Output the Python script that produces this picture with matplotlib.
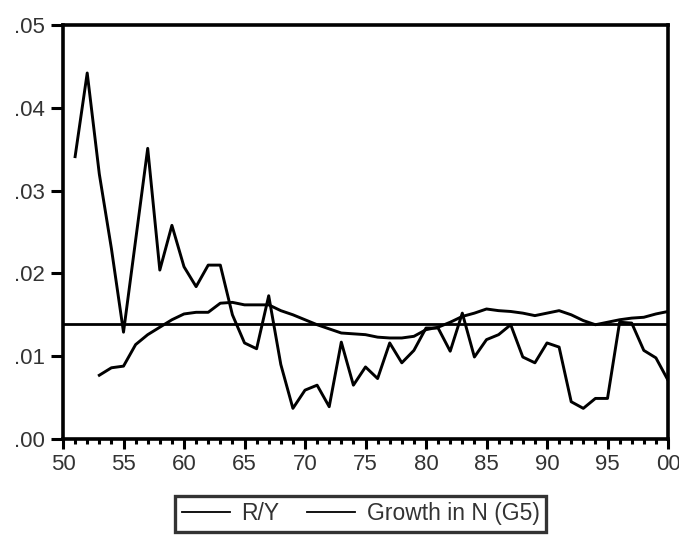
import numpy as np
import matplotlib
matplotlib.use("Agg")
import matplotlib.pyplot as plt
from matplotlib.ticker import MultipleLocator, FuncFormatter

plt.rcParams["font.family"] = ["Liberation Sans", "DejaVu Sans"]

# ================= DATA =================
years_ry = list(range(51, 101))
r_y = [
    0.0341, 0.0442, 0.0320, 0.0230, 0.0129, 0.0240, 0.0351, 0.0204, 0.0258, 0.0208,
    0.0184, 0.0210, 0.0210, 0.0150, 0.0116, 0.0109, 0.0173, 0.0090, 0.0037, 0.0059,
    0.0065, 0.0039, 0.0117, 0.0065, 0.0087, 0.0073, 0.0116, 0.0092, 0.0107, 0.0134,
    0.0134, 0.0106, 0.0152, 0.0099, 0.0120, 0.0126, 0.0138, 0.0099, 0.0092, 0.0116,
    0.0111, 0.0045, 0.0037, 0.0049, 0.0049, 0.0141, 0.0140, 0.0107, 0.0098, 0.0071,
]

years_g = list(range(53, 101))
growth_n = [
    0.0077, 0.0086, 0.0088, 0.0114, 0.0126, 0.0135, 0.0144, 0.0151, 0.0153, 0.0153,
    0.0164, 0.0165, 0.0162, 0.0162, 0.0162, 0.0155, 0.0150, 0.0144, 0.0138, 0.0133,
    0.0128, 0.0127, 0.0126, 0.0123, 0.0122, 0.0122, 0.0124, 0.0132, 0.0135, 0.0141,
    0.0148, 0.0152, 0.0157, 0.0155, 0.0154, 0.0152, 0.0149, 0.0152, 0.0155, 0.0150,
    0.0143, 0.0138, 0.0141, 0.0144, 0.0146, 0.0147, 0.0151, 0.0154,
]

mean_level = 0.0139

# ================= CHART =================
fig = plt.figure(figsize=(6.79, 5.37), dpi=100)
ax = fig.add_axes([0.0928, 0.1825, 0.891, 0.771])

ax.plot(years_ry, r_y, color="black", lw=2.1, label="R/Y")
ax.plot(years_g, growth_n, color="black", lw=2.1, label="Growth in N (G5)")
ax.axhline(mean_level, color="black", lw=2.0)

ax.set_xlim(50, 100)
ax.set_ylim(0, 0.05)

ax.xaxis.set_major_locator(MultipleLocator(5))
ax.xaxis.set_minor_locator(MultipleLocator(1))
ax.yaxis.set_major_locator(MultipleLocator(0.01))
ax.xaxis.set_major_formatter(FuncFormatter(lambda v, p: "%02d" % (int(round(v)) % 100)))
ax.yaxis.set_major_formatter(FuncFormatter(lambda v, p: ("%.2f" % v)[1:]))

ax.tick_params(axis="x", which="major", direction="out", length=7, width=2.2, pad=4, labelsize=16, labelcolor="#333333")
ax.tick_params(axis="x", which="minor", direction="out", length=3.5, width=2.2)
ax.tick_params(axis="y", which="major", direction="out", length=9, width=2.2, pad=4, labelsize=16, labelcolor="#333333")
ax.tick_params(top=False, right=False)

for s in ax.spines.values():
    s.set_linewidth(2.6)

leg = fig.legend(
    loc="lower center",
    bbox_to_anchor=(0.531, -0.004),
    ncol=2,
    fontsize=16.5,
    frameon=True,
    fancybox=False,
    edgecolor="black",
    handlelength=2.1,
    handletextpad=0.5,
    columnspacing=1.2,
    borderpad=0.3,
    borderaxespad=0.3,
)
leg.get_frame().set_linewidth(2.4)
for t in leg.get_texts():
    t.set_color("#333333")
for h in leg.legend_handles:
    h.set_linewidth(1.3)

fig.savefig("out.png", dpi=100)
plt.close(fig)
